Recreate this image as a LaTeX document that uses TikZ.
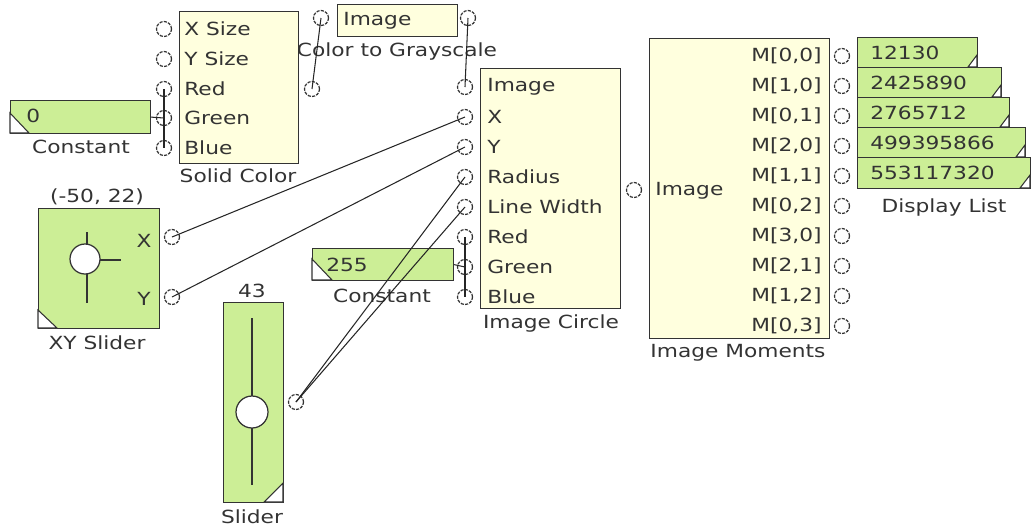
\documentclass[tikz,border=0pt]{standalone}
\usepackage{fontspec}
\setmainfont{DejaVu Sans}[FakeStretch=1.2]
\usepackage{xcolor}
\usepackage{tikz}
\definecolor{cream}{RGB}{255,255,222}
\definecolor{lime}{RGB}{204,238,150}
\definecolor{edge}{RGB}{51,51,51}
\newcommand{\blkfont}{\fontsize{10.3}{12}\selectfont}

\begin{document}
\begin{tikzpicture}[x=0.02cm,y=-0.02cm,
    block/.style={draw=edge,fill=cream,line width=0.7pt,anchor=north west,inner sep=0},
    valbox/.style={draw=edge,fill=lime,line width=0.7pt,anchor=north west,inner sep=0},
    port/.style={circle,draw=edge,dash pattern=on 1.8pt off 0.7pt,line width=0.7pt,minimum size=0.3cm,inner sep=0},
    txt/.style={font=\blkfont,text=edge,inner sep=0},
    wire/.style={draw=black!85,line width=0.6pt},
    notch/.style={fill=white,draw=edge,line width=0.6pt}]
        \useasboundingbox (0,0) rectangle (1032,529);
        % Solid Color
        \node[block,minimum width=2.38cm,minimum height=3.04cm] (sc) at (179,11) {};
        \node[txt] (sc-l) at (238,176) {Solid Color};
        \node[port] (sc-xs) at (164,29) {};
        \node[port] (sc-ys) at (164,59) {};
        \node[port] (sc-red) at (164,89) {};
        \node[port] (sc-green) at (164,118) {};
        \node[port] (sc-blue) at (164,148) {};
        \node[port] (sc-out) at (312,89) {};
        \node[txt,anchor=west] (sc-xs-l) at (184,29) {X Size};
        \node[txt,anchor=west] (sc-ys-l) at (184,59) {Y Size};
        \node[txt,anchor=west] (sc-red-l) at (184,89) {Red};
        \node[txt,anchor=west] (sc-green-l) at (184,118) {Green};
        \node[txt,anchor=west] (sc-blue-l) at (184,148) {Blue};
        % Constant 0
        \node[valbox,minimum width=2.8cm,minimum height=0.66cm] (c0) at (10,100) {};
        \filldraw[notch] (10,113) -- (29,133) -- (10,133) -- cycle;
        \node[txt,anchor=west] (c0-v) at (26,116) {0};
        \node[txt] (c0-l) at (81,147) {Constant};
        % Color to Grayscale
        \node[block,minimum width=2.4cm,minimum height=0.64cm] (ctg) at (337,4) {};
        \node[txt,anchor=west] (ctg-t) at (343,21) {Image};
        \node[port] (ctg-in) at (321,18) {};
        \node[port] (ctg-out) at (468,18) {};
        \node[txt] (ctg-l) at (397,51) {Color to Grayscale};
        % Image Circle
        \node[block,minimum width=2.8cm,minimum height=4.8cm] (ic) at (480,68) {};
        \node[txt] (ic-l) at (551,323) {Image Circle};
        \node[port] (ic-image) at (465,87) {};
        \node[port] (ic-x) at (465,117) {};
        \node[port] (ic-y) at (465,147) {};
        \node[port] (ic-radius) at (465,177) {};
        \node[port] (ic-lw) at (465,207) {};
        \node[port] (ic-red) at (465,237) {};
        \node[port] (ic-green) at (465,267) {};
        \node[port] (ic-blue) at (465,297) {};
        \node[port] (ic-out) at (634,190) {};
        \node[txt,anchor=west] (ic-image-l) at (487,87) {Image};
        \node[txt,anchor=west] (ic-x-l) at (487,117) {X};
        \node[txt,anchor=west] (ic-y-l) at (487,147) {Y};
        \node[txt,anchor=west] (ic-radius-l) at (487,177) {Radius};
        \node[txt,anchor=west] (ic-lw-l) at (487,207) {Line Width};
        \node[txt,anchor=west] (ic-red-l) at (487,237) {Red};
        \node[txt,anchor=west] (ic-green-l) at (487,267) {Green};
        \node[txt,anchor=west] (ic-blue-l) at (487,297) {Blue};
        % Image Moments
        \node[block,minimum width=3.6cm,minimum height=6cm] (im) at (649,38) {};
        \node[txt,anchor=west] (im-in-l) at (655,191) {Image};
        \node[txt] (im-l) at (738,353) {Image Moments};
        \node[port] (im-00) at (842,56) {};
        \node[port] (im-10) at (842,86) {};
        \node[port] (im-01) at (842,116) {};
        \node[port] (im-20) at (842,146) {};
        \node[port] (im-11) at (842,176) {};
        \node[port] (im-02) at (842,206) {};
        \node[port] (im-30) at (842,236) {};
        \node[port] (im-21) at (842,266) {};
        \node[port] (im-12) at (842,296) {};
        \node[port] (im-03) at (842,326) {};
        \node[txt,anchor=east] (im-00-l) at (822,56) {M[0,0]};
        \node[txt,anchor=east] (im-10-l) at (822,86) {M[1,0]};
        \node[txt,anchor=east] (im-01-l) at (822,116) {M[0,1]};
        \node[txt,anchor=east] (im-20-l) at (822,146) {M[2,0]};
        \node[txt,anchor=east] (im-11-l) at (822,176) {M[1,1]};
        \node[txt,anchor=east] (im-02-l) at (822,206) {M[0,2]};
        \node[txt,anchor=east] (im-30-l) at (822,236) {M[3,0]};
        \node[txt,anchor=east] (im-21-l) at (822,266) {M[2,1]};
        \node[txt,anchor=east] (im-12-l) at (822,296) {M[1,2]};
        \node[txt,anchor=east] (im-03-l) at (822,326) {M[0,3]};
        % Display List
        \node[valbox,minimum width=2.4cm,minimum height=0.6cm] (dl1) at (857,37) {};
        \filldraw[notch] (968,67) -- (977,55) -- (977,67) -- cycle;
        \node[valbox,minimum width=2.88cm,minimum height=0.6cm] (dl2) at (857,67) {};
        \filldraw[notch] (992,97) -- (1001,85) -- (1001,97) -- cycle;
        \node[valbox,minimum width=3.04cm,minimum height=0.6cm] (dl3) at (857,97) {};
        \filldraw[notch] (1000,127) -- (1009,115) -- (1009,127) -- cycle;
        \node[valbox,minimum width=3.36cm,minimum height=0.6cm] (dl4) at (857,127) {};
        \filldraw[notch] (1016,157) -- (1025,145) -- (1025,157) -- cycle;
        \node[valbox,minimum width=3.46cm,minimum height=0.62cm] (dl5) at (857,157) {};
        \filldraw[notch] (1020,188) -- (1030,175) -- (1030,188) -- cycle;
        \node[txt,anchor=west] (dl1-v) at (870,53) {12130};
        \node[txt,anchor=west] (dl2-v) at (870,83) {2425890};
        \node[txt,anchor=west] (dl3-v) at (870,113) {2765712};
        \node[txt,anchor=west] (dl4-v) at (870,143) {499395866};
        \node[txt,anchor=west] (dl5-v) at (870,173) {553117320};
        \node[txt] (dl-l) at (944,207) {Display List};
        % XY Slider
        \node[valbox,minimum width=2.42cm,minimum height=2.4cm] (xy) at (38,208) {};
        \filldraw[notch] (38,310) -- (57,328) -- (38,328) -- cycle;
        \draw[edge,line width=1pt] (87,232) -- (87,303);
        \draw[edge,line width=1pt] (87,260) -- (121,260);
        \node[circle,draw=edge,fill=white,line width=0.7pt,minimum size=0.6cm,inner sep=0] (xy-knob) at (85,259) {};
        \node[txt] (xy-x-l) at (144,241) {X};
        \node[txt] (xy-y-l) at (144,299) {Y};
        \node[port] (xy-x) at (172,237) {};
        \node[port] (xy-y) at (172,297) {};
        \node[txt] (xy-v) at (97,197) {(-50, 22)};
        \node[txt] (xy-l) at (97,343) {XY Slider};
        % Constant 255
        \node[valbox,minimum width=2.82cm,minimum height=0.64cm] (c255) at (312,248) {};
        \filldraw[notch] (312,259) -- (332,280) -- (312,280) -- cycle;
        \node[txt,anchor=west] (c255-v) at (326,265) {255};
        \node[txt] (c255-l) at (382,296) {Constant};
        % Slider
        \node[valbox,minimum width=1.2cm,minimum height=4cm] (sl) at (223,302) {};
        \filldraw[notch] (283,483) -- (283,502) -- (264,502) -- cycle;
        \draw[edge,line width=1pt] (252,318) -- (252,485);
        \node[circle,draw=edge,fill=white,line width=0.7pt,minimum size=0.64cm,inner sep=0] (sl-knob) at (252,412) {};
        \node[port] (sl-out) at (296,402) {};
        \node[txt] (sl-v) at (252,291) {43};
        \node[txt] (sl-l) at (252,517) {Slider};
        % Wires
        \draw[wire] (c0.east) -- (sc-green.center);
        \draw[wire] (sc-red.center) -- (sc-blue.center);
        \draw[wire] (sc-out.center) -- (ctg-in.center);
        \draw[wire] (ctg-out.center) -- (ic-image.center);
        \draw[wire] (xy-x.center) -- (ic-x.center);
        \draw[wire] (xy-y.center) -- (ic-y.center);
        \draw[wire] (sl-out.center) -- (ic-radius.center);
        \draw[wire] (sl-out.center) -- (ic-lw.center);
        \draw[wire] (c255.east) -- (ic-green.center);
        \draw[wire] (ic-red.center) -- (ic-blue.center);
    \end{tikzpicture}
\end{document}
